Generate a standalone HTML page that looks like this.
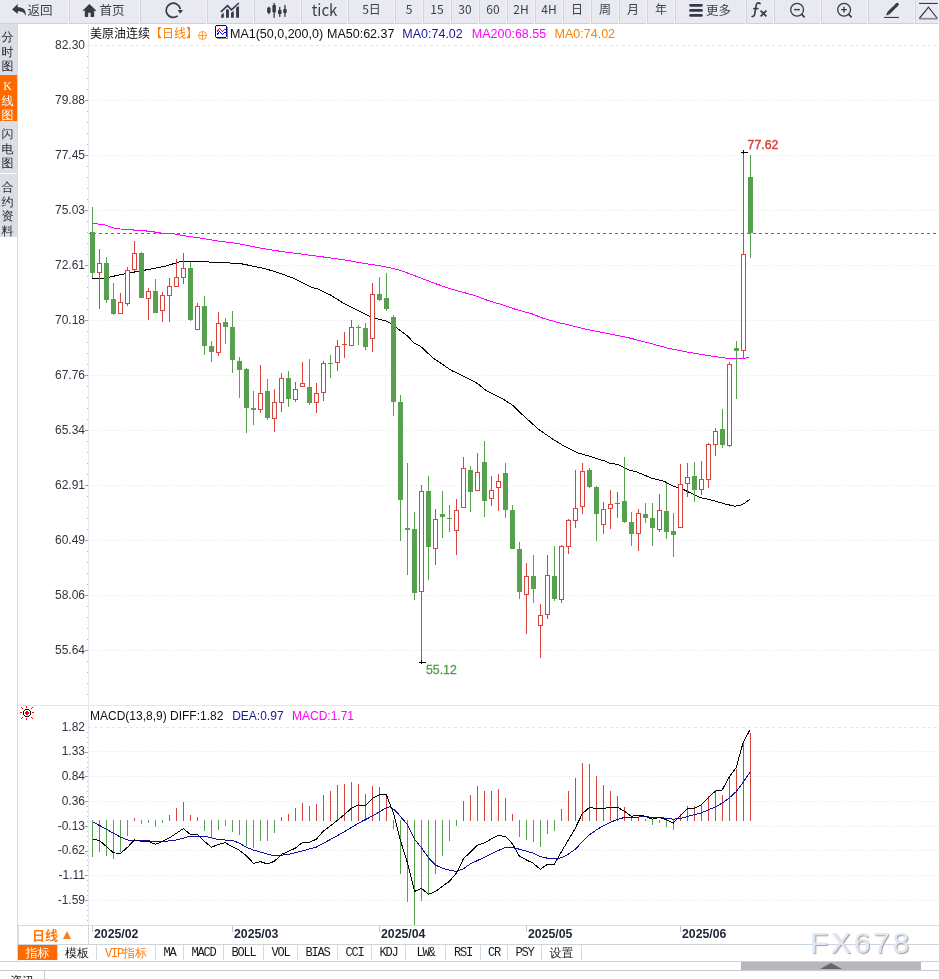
<!DOCTYPE html>
<html><head><meta charset="utf-8"><title>美原油连续 日线</title><style>
*{margin:0;padding:0;box-sizing:border-box}
html,body{width:939px;height:979px;overflow:hidden;background:#fff}
body{position:relative;font-family:"Liberation Sans","Noto Sans CJK SC",sans-serif}
#tb{position:absolute;left:0;top:0;width:939px;height:24px;background:#f3f3f7}
#tb .b{position:absolute;top:0;height:24px;background:#e9e9f1;border-left:1px solid #d3d3db;border-bottom:1px solid #d0d0d8;display:flex;align-items:center;justify-content:center;color:#3b414d;font-size:13px;font-family:"Noto Sans CJK SC","Liberation Sans",sans-serif;line-height:1;white-space:nowrap;padding-bottom:5px}
#tb .b0{border-left:none}
#tb .cj{font-size:12px}
#tb .tl{position:absolute;top:1.5px;font-size:12.5px;line-height:15px;color:#3b414d;font-family:"Noto Sans CJK SC",sans-serif}
#side{position:absolute;left:0;top:24px;width:18px;height:937px;border-right:1px solid #d6dbe3}
.st{position:absolute;left:0;width:17px;background:#dcdde5;color:#222a35;font-size:12px;line-height:14.5px;text-align:center;padding-top:6px;padding-right:2px;font-family:"WenQuanYi Zen Hei","Noto Sans CJK SC",sans-serif}
.st.on{background:#ff6a00;color:#fff}
#ch{position:absolute;left:0;top:0}
.yl{position:absolute;left:20px;width:65px;text-align:right;font-size:12px;line-height:16px;color:#2e3440}
.dl{position:absolute;top:927px;font-size:12.3px;font-weight:bold;color:#1d2535;line-height:14px}
#lg{position:absolute;left:0;top:26px;font-size:12.5px;line-height:16px;white-space:nowrap}#lg span,#mlg span{position:absolute;top:0}
#mlg{position:absolute;left:0;top:708px;font-size:12px;line-height:16px;white-space:nowrap}
#dbox{position:absolute;left:18px;top:925px;width:71px;height:20px;border:1px solid #d3d9e1;color:#ff7a10;font-size:13px;font-weight:bold;line-height:18px;padding-right:4px;text-align:center;font-family:"Noto Sans CJK SC",sans-serif}
.bt{position:absolute;top:945px;height:15px;border-right:1px solid #d3d9e1;font-size:12px;line-height:16px;text-align:center;color:#1a1a1a;font-family:"WenQuanYi Zen Hei","Noto Sans CJK SC",sans-serif}
.bt.on{background:#ff6a00;color:#fff}
.bt.vip{color:#ff7a10}
.bt.m{font-family:"Liberation Mono",monospace;letter-spacing:-1.2px;font-size:12px}
#brow{position:absolute;left:18px;top:944px;width:921px;height:18px;border-top:1px solid #ccd4de}
#brow2{position:absolute;left:0;top:961px;width:939px;height:1px;background:#cdd4dd}
#scroll{position:absolute;left:741px;top:962px;width:180px;height:8px;background:#b6b6bc}
#scroll:after{content:"";position:absolute;left:79px;top:1px;border-left:11px solid transparent;border-right:11px solid transparent;border-bottom:6px solid #666}
#bline{position:absolute;left:0;top:970px;width:939px;height:1px;background:#c6ccd4}
#zx{position:absolute;left:0;top:971px;width:45px;height:8px;border-right:1px solid #c6ccd4;font-size:12px;line-height:14px;padding-left:10px;padding-top:3px;color:#222;overflow:hidden;font-family:"Noto Sans CJK SC",sans-serif}
#wm{position:absolute;left:810px;top:925px;font-size:30px;letter-spacing:2.7px;color:#dde9f8;text-shadow:1px 1px 1px #b89a84;font-family:"Liberation Sans",sans-serif;line-height:36px}
</style></head><body>
<svg id="ch" width="939" height="979" viewBox="0 0 939 979"><line x1="89" y1="100.5" x2="939" y2="100.5" stroke="#e3e8ee" stroke-dasharray="1 2"/><line x1="89" y1="155.5" x2="939" y2="155.5" stroke="#e3e8ee" stroke-dasharray="1 2"/><line x1="89" y1="210.5" x2="939" y2="210.5" stroke="#e3e8ee" stroke-dasharray="1 2"/><line x1="89" y1="265.5" x2="939" y2="265.5" stroke="#e3e8ee" stroke-dasharray="1 2"/><line x1="89" y1="320.5" x2="939" y2="320.5" stroke="#e3e8ee" stroke-dasharray="1 2"/><line x1="89" y1="375.5" x2="939" y2="375.5" stroke="#e3e8ee" stroke-dasharray="1 2"/><line x1="89" y1="430.5" x2="939" y2="430.5" stroke="#e3e8ee" stroke-dasharray="1 2"/><line x1="89" y1="485.5" x2="939" y2="485.5" stroke="#e3e8ee" stroke-dasharray="1 2"/><line x1="89" y1="540.5" x2="939" y2="540.5" stroke="#e3e8ee" stroke-dasharray="1 2"/><line x1="89" y1="595.5" x2="939" y2="595.5" stroke="#e3e8ee" stroke-dasharray="1 2"/><line x1="89" y1="650.5" x2="939" y2="650.5" stroke="#e3e8ee" stroke-dasharray="1 2"/><line x1="88" y1="45.5" x2="939" y2="45.5" stroke="#e2e8ef" stroke-dasharray="3 3" stroke-dashoffset="-0"/><line x1="87" y1="56.5" x2="88" y2="56.5" stroke="#b4bac4"/><line x1="87" y1="67.5" x2="88" y2="67.5" stroke="#b4bac4"/><line x1="87" y1="78.5" x2="88" y2="78.5" stroke="#b4bac4"/><line x1="87" y1="89.5" x2="88" y2="89.5" stroke="#b4bac4"/><line x1="85" y1="100.5" x2="88" y2="100.5" stroke="#9aa0a8"/><line x1="87" y1="111.5" x2="88" y2="111.5" stroke="#b4bac4"/><line x1="87" y1="122.5" x2="88" y2="122.5" stroke="#b4bac4"/><line x1="87" y1="133.5" x2="88" y2="133.5" stroke="#b4bac4"/><line x1="87" y1="144.5" x2="88" y2="144.5" stroke="#b4bac4"/><line x1="85" y1="155.5" x2="88" y2="155.5" stroke="#9aa0a8"/><line x1="87" y1="166.5" x2="88" y2="166.5" stroke="#b4bac4"/><line x1="87" y1="177.5" x2="88" y2="177.5" stroke="#b4bac4"/><line x1="87" y1="188.5" x2="88" y2="188.5" stroke="#b4bac4"/><line x1="87" y1="199.5" x2="88" y2="199.5" stroke="#b4bac4"/><line x1="85" y1="210.5" x2="88" y2="210.5" stroke="#9aa0a8"/><line x1="87" y1="221.5" x2="88" y2="221.5" stroke="#b4bac4"/><line x1="87" y1="232.5" x2="88" y2="232.5" stroke="#b4bac4"/><line x1="87" y1="243.5" x2="88" y2="243.5" stroke="#b4bac4"/><line x1="87" y1="254.5" x2="88" y2="254.5" stroke="#b4bac4"/><line x1="85" y1="265.5" x2="88" y2="265.5" stroke="#9aa0a8"/><line x1="87" y1="276.5" x2="88" y2="276.5" stroke="#b4bac4"/><line x1="87" y1="287.5" x2="88" y2="287.5" stroke="#b4bac4"/><line x1="87" y1="298.5" x2="88" y2="298.5" stroke="#b4bac4"/><line x1="87" y1="309.5" x2="88" y2="309.5" stroke="#b4bac4"/><line x1="85" y1="320.5" x2="88" y2="320.5" stroke="#9aa0a8"/><line x1="87" y1="331.5" x2="88" y2="331.5" stroke="#b4bac4"/><line x1="87" y1="342.5" x2="88" y2="342.5" stroke="#b4bac4"/><line x1="87" y1="353.5" x2="88" y2="353.5" stroke="#b4bac4"/><line x1="87" y1="364.5" x2="88" y2="364.5" stroke="#b4bac4"/><line x1="85" y1="375.5" x2="88" y2="375.5" stroke="#9aa0a8"/><line x1="87" y1="386.5" x2="88" y2="386.5" stroke="#b4bac4"/><line x1="87" y1="397.5" x2="88" y2="397.5" stroke="#b4bac4"/><line x1="87" y1="408.5" x2="88" y2="408.5" stroke="#b4bac4"/><line x1="87" y1="419.5" x2="88" y2="419.5" stroke="#b4bac4"/><line x1="85" y1="430.5" x2="88" y2="430.5" stroke="#9aa0a8"/><line x1="87" y1="441.5" x2="88" y2="441.5" stroke="#b4bac4"/><line x1="87" y1="452.5" x2="88" y2="452.5" stroke="#b4bac4"/><line x1="87" y1="463.5" x2="88" y2="463.5" stroke="#b4bac4"/><line x1="87" y1="474.5" x2="88" y2="474.5" stroke="#b4bac4"/><line x1="85" y1="485.5" x2="88" y2="485.5" stroke="#9aa0a8"/><line x1="87" y1="496.5" x2="88" y2="496.5" stroke="#b4bac4"/><line x1="87" y1="507.5" x2="88" y2="507.5" stroke="#b4bac4"/><line x1="87" y1="518.5" x2="88" y2="518.5" stroke="#b4bac4"/><line x1="87" y1="529.5" x2="88" y2="529.5" stroke="#b4bac4"/><line x1="85" y1="540.5" x2="88" y2="540.5" stroke="#9aa0a8"/><line x1="87" y1="551.5" x2="88" y2="551.5" stroke="#b4bac4"/><line x1="87" y1="562.5" x2="88" y2="562.5" stroke="#b4bac4"/><line x1="87" y1="573.5" x2="88" y2="573.5" stroke="#b4bac4"/><line x1="87" y1="584.5" x2="88" y2="584.5" stroke="#b4bac4"/><line x1="85" y1="595.5" x2="88" y2="595.5" stroke="#9aa0a8"/><line x1="87" y1="606.5" x2="88" y2="606.5" stroke="#b4bac4"/><line x1="87" y1="617.5" x2="88" y2="617.5" stroke="#b4bac4"/><line x1="87" y1="628.5" x2="88" y2="628.5" stroke="#b4bac4"/><line x1="87" y1="639.5" x2="88" y2="639.5" stroke="#b4bac4"/><line x1="85" y1="650.5" x2="88" y2="650.5" stroke="#9aa0a8"/><line x1="87" y1="661.5" x2="88" y2="661.5" stroke="#b4bac4"/><line x1="87" y1="672.5" x2="88" y2="672.5" stroke="#b4bac4"/><line x1="87" y1="683.5" x2="88" y2="683.5" stroke="#b4bac4"/><line x1="87" y1="694.5" x2="88" y2="694.5" stroke="#b4bac4"/><line x1="88.5" y1="24" x2="88.5" y2="944" stroke="#e5eaf0"/><line x1="89" y1="233.5" x2="939" y2="233.5" stroke="#1e7ff0" stroke-dasharray="3 3" stroke-dashoffset="2"/><polyline points="92.0,223.6 102.4,224.3 116.8,228.8 131.1,229.6 137.5,230.7 151.9,231.2 156.7,232.7 174.3,233.9 182.2,235.5 199.8,237.9 215.8,240.7 236.0,243.2 254.1,246.9 272.2,250.1 290.3,252.7 308.4,255.0 326.5,257.4 344.6,259.9 362.7,263.2 380.8,265.9 393.5,268.6 400.0,270.2 416.3,276.3 436.8,284.1 451.1,289.0 475.6,295.8 485.8,299.8 506.3,306.0 514.4,309.0 532.8,314.1 543.0,318.2 559.4,322.9 566.0,324.2 586.2,329.2 606.5,333.3 626.7,337.3 646.9,342.4 667.2,348.0 687.4,352.1 707.6,355.5 725.9,358.2 744.1,358.6 749.1,357.1" fill="none" stroke="#ff00ff" stroke-width="1" shape-rendering="crispEdges"/><polyline points="92.0,278.3 102.4,278.3 108.8,277.2 126.3,273.5 144.0,270.3 164.6,266.3 182.2,261.2 207.8,261.2 209.4,262.3 236.0,263.2 243.2,264.1 254.1,266.4 265.0,268.6 281.3,273.7 293.9,278.5 312.0,287.6 317.5,288.9 330.1,294.8 344.6,303.9 359.1,311.1 371.8,317.5 386.3,321.1 393.5,324.7 400.0,330.5 408.2,336.6 414.3,343.4 420.4,346.2 432.7,357.7 451.1,370.3 467.4,378.1 477.6,383.6 485.8,390.2 502.2,398.5 512.4,405.1 522.6,414.9 538.9,429.6 553.2,439.4 564.0,446.0 570.6,449.3 577.3,452.9 583.9,454.6 590.6,456.6 598.5,459.3 603.9,460.6 609.2,463.2 617.1,464.3 623.8,467.2 630.4,470.6 636.0,471.6 644.6,475.2 652.6,478.5 664.6,481.5 668.5,483.8 676.5,487.4 681.8,488.4 687.1,491.4 693.8,494.4 700.4,497.7 709.3,499.4 725.9,504.2 734.7,506.2 740.0,505.5 745.0,503.0 750.0,499.2" fill="none" stroke="#000000" stroke-width="1" shape-rendering="crispEdges"/><g shape-rendering="crispEdges"><rect x="92" y="207" width="1" height="71" fill="#56a04e"/><rect x="90" y="232" width="5" height="41" fill="#56a04e"/><rect x="99" y="249" width="1" height="14" fill="#d6443d"/><rect x="99" y="272" width="1" height="37" fill="#d6443d"/><rect x="97.5" y="263.5" width="4" height="9" fill="#fff" stroke="#d6443d" stroke-width="1"/><rect x="106" y="257" width="1" height="46" fill="#56a04e"/><rect x="104" y="263" width="5" height="37" fill="#56a04e"/><rect x="113" y="283" width="1" height="32" fill="#56a04e"/><rect x="111" y="299" width="5" height="15" fill="#56a04e"/><rect x="120" y="293" width="1" height="9" fill="#d6443d"/><rect x="120" y="313" width="1" height="1" fill="#d6443d"/><rect x="118.5" y="302.5" width="4" height="11" fill="#fff" stroke="#d6443d" stroke-width="1"/><rect x="127" y="267" width="1" height="3" fill="#d6443d"/><rect x="127" y="303" width="1" height="3" fill="#d6443d"/><rect x="125.5" y="270.5" width="4" height="33" fill="#fff" stroke="#d6443d" stroke-width="1"/><rect x="134" y="241" width="1" height="12" fill="#d6443d"/><rect x="134" y="269" width="1" height="2" fill="#d6443d"/><rect x="132.5" y="253.5" width="4" height="16" fill="#fff" stroke="#d6443d" stroke-width="1"/><rect x="141" y="252" width="1" height="46" fill="#56a04e"/><rect x="139" y="253" width="5" height="45" fill="#56a04e"/><rect x="148" y="288" width="1" height="3" fill="#d6443d"/><rect x="148" y="298" width="1" height="22" fill="#d6443d"/><rect x="146.5" y="291.5" width="4" height="7" fill="#fff" stroke="#d6443d" stroke-width="1"/><rect x="155" y="279" width="1" height="34" fill="#56a04e"/><rect x="153" y="291" width="5" height="22" fill="#56a04e"/><rect x="162" y="292" width="1" height="3" fill="#d6443d"/><rect x="162" y="310" width="1" height="12" fill="#d6443d"/><rect x="160.5" y="295.5" width="4" height="15" fill="#fff" stroke="#d6443d" stroke-width="1"/><rect x="169" y="278" width="1" height="8" fill="#d6443d"/><rect x="169" y="295" width="1" height="27" fill="#d6443d"/><rect x="167.5" y="286.5" width="4" height="9" fill="#fff" stroke="#d6443d" stroke-width="1"/><rect x="176" y="259" width="1" height="18" fill="#d6443d"/><rect x="176" y="286" width="1" height="0" fill="#d6443d"/><rect x="174.5" y="277.5" width="4" height="9" fill="#fff" stroke="#d6443d" stroke-width="1"/><rect x="183" y="253" width="1" height="15" fill="#d6443d"/><rect x="183" y="277" width="1" height="7" fill="#d6443d"/><rect x="181.5" y="268.5" width="4" height="9" fill="#fff" stroke="#d6443d" stroke-width="1"/><rect x="190" y="262" width="1" height="59" fill="#56a04e"/><rect x="188" y="268" width="5" height="52" fill="#56a04e"/><rect x="197" y="303" width="1" height="3" fill="#d6443d"/><rect x="197" y="329" width="1" height="0" fill="#d6443d"/><rect x="195.5" y="306.5" width="4" height="23" fill="#fff" stroke="#d6443d" stroke-width="1"/><rect x="204" y="296" width="1" height="59" fill="#56a04e"/><rect x="202" y="306" width="5" height="40" fill="#56a04e"/><rect x="211" y="341" width="1" height="21" fill="#56a04e"/><rect x="209" y="346" width="5" height="6" fill="#56a04e"/><rect x="218" y="312" width="1" height="11" fill="#d6443d"/><rect x="218" y="352" width="1" height="4" fill="#d6443d"/><rect x="216.5" y="323.5" width="4" height="29" fill="#fff" stroke="#d6443d" stroke-width="1"/><rect x="225" y="318" width="1" height="26" fill="#56a04e"/><rect x="223" y="322" width="5" height="5" fill="#56a04e"/><rect x="232" y="311" width="1" height="62" fill="#56a04e"/><rect x="230" y="327" width="5" height="33" fill="#56a04e"/><rect x="239" y="357" width="1" height="41" fill="#56a04e"/><rect x="237" y="361" width="5" height="9" fill="#56a04e"/><rect x="246" y="368" width="1" height="65" fill="#56a04e"/><rect x="244" y="369" width="5" height="39" fill="#56a04e"/><rect x="253" y="391" width="1" height="34" fill="#56a04e"/><rect x="251" y="408" width="5" height="2" fill="#56a04e"/><rect x="260" y="365" width="1" height="28" fill="#d6443d"/><rect x="260" y="409" width="1" height="4" fill="#d6443d"/><rect x="258.5" y="393.5" width="4" height="16" fill="#fff" stroke="#d6443d" stroke-width="1"/><rect x="267" y="379" width="1" height="41" fill="#56a04e"/><rect x="265" y="391" width="5" height="27" fill="#56a04e"/><rect x="274" y="389" width="1" height="13" fill="#d6443d"/><rect x="274" y="418" width="1" height="14" fill="#d6443d"/><rect x="272.5" y="402.5" width="4" height="16" fill="#fff" stroke="#d6443d" stroke-width="1"/><rect x="281" y="373" width="1" height="5" fill="#d6443d"/><rect x="281" y="402" width="1" height="10" fill="#d6443d"/><rect x="279.5" y="378.5" width="4" height="24" fill="#fff" stroke="#d6443d" stroke-width="1"/><rect x="288" y="371" width="1" height="36" fill="#56a04e"/><rect x="286" y="378" width="5" height="21" fill="#56a04e"/><rect x="295" y="382" width="1" height="7" fill="#d6443d"/><rect x="295" y="399" width="1" height="3" fill="#d6443d"/><rect x="293.5" y="389.5" width="4" height="10" fill="#fff" stroke="#d6443d" stroke-width="1"/><rect x="302" y="362" width="1" height="21" fill="#d6443d"/><rect x="302" y="386" width="1" height="1" fill="#d6443d"/><rect x="300.5" y="383.5" width="4" height="3" fill="#fff" stroke="#d6443d" stroke-width="1"/><rect x="309" y="359" width="1" height="46" fill="#56a04e"/><rect x="307" y="387" width="5" height="16" fill="#56a04e"/><rect x="316" y="383" width="1" height="10" fill="#d6443d"/><rect x="316" y="402" width="1" height="11" fill="#d6443d"/><rect x="314.5" y="393.5" width="4" height="9" fill="#fff" stroke="#d6443d" stroke-width="1"/><rect x="323" y="361" width="1" height="2" fill="#d6443d"/><rect x="323" y="392" width="1" height="9" fill="#d6443d"/><rect x="321.5" y="363.5" width="4" height="29" fill="#fff" stroke="#d6443d" stroke-width="1"/><rect x="330" y="355" width="1" height="23" fill="#56a04e"/><rect x="328" y="363" width="5" height="1" fill="#56a04e"/><rect x="337" y="340" width="1" height="6" fill="#d6443d"/><rect x="337" y="362" width="1" height="9" fill="#d6443d"/><rect x="335.5" y="346.5" width="4" height="16" fill="#fff" stroke="#d6443d" stroke-width="1"/><rect x="344" y="332" width="1" height="12" fill="#d6443d"/><rect x="344" y="345" width="1" height="13" fill="#d6443d"/><rect x="342" y="344" width="5" height="1" fill="#d6443d"/><rect x="344" y="344" width="1" height="14" fill="#d6443d"/><rect x="351" y="320" width="1" height="7" fill="#d6443d"/><rect x="351" y="345" width="1" height="1" fill="#d6443d"/><rect x="349.5" y="327.5" width="4" height="18" fill="#fff" stroke="#d6443d" stroke-width="1"/><rect x="358" y="325" width="1" height="20" fill="#56a04e"/><rect x="356" y="327" width="5" height="1" fill="#56a04e"/><rect x="365" y="323" width="1" height="27" fill="#56a04e"/><rect x="363" y="328" width="5" height="19" fill="#56a04e"/><rect x="372" y="283" width="1" height="11" fill="#d6443d"/><rect x="372" y="338" width="1" height="14" fill="#d6443d"/><rect x="370.5" y="294.5" width="4" height="44" fill="#fff" stroke="#d6443d" stroke-width="1"/><rect x="379" y="277" width="1" height="24" fill="#56a04e"/><rect x="377" y="294" width="5" height="6" fill="#56a04e"/><rect x="386" y="273" width="1" height="38" fill="#56a04e"/><rect x="384" y="298" width="5" height="11" fill="#56a04e"/><rect x="393" y="315" width="1" height="101" fill="#56a04e"/><rect x="391" y="317" width="5" height="85" fill="#56a04e"/><rect x="400" y="395" width="1" height="146" fill="#56a04e"/><rect x="398" y="402" width="5" height="98" fill="#56a04e"/><rect x="407" y="463" width="1" height="112" fill="#56a04e"/><rect x="405" y="528" width="5" height="2" fill="#56a04e"/><rect x="414" y="512" width="1" height="88" fill="#56a04e"/><rect x="412" y="529" width="5" height="64" fill="#56a04e"/><rect x="421" y="485" width="1" height="6" fill="#d6443d"/><rect x="421" y="591" width="1" height="71" fill="#d6443d"/><rect x="419.5" y="491.5" width="4" height="100" fill="#fff" stroke="#d6443d" stroke-width="1"/><rect x="428" y="476" width="1" height="104" fill="#56a04e"/><rect x="426" y="491" width="5" height="56" fill="#56a04e"/><rect x="435" y="509" width="1" height="10" fill="#d6443d"/><rect x="435" y="548" width="1" height="17" fill="#d6443d"/><rect x="433.5" y="519.5" width="4" height="29" fill="#fff" stroke="#d6443d" stroke-width="1"/><rect x="442" y="491" width="1" height="47" fill="#56a04e"/><rect x="440" y="514" width="5" height="3" fill="#56a04e"/><rect x="449" y="505" width="1" height="27" fill="#56a04e"/><rect x="447" y="518" width="5" height="1" fill="#56a04e"/><rect x="456" y="499" width="1" height="11" fill="#d6443d"/><rect x="456" y="530" width="1" height="25" fill="#d6443d"/><rect x="454.5" y="510.5" width="4" height="20" fill="#fff" stroke="#d6443d" stroke-width="1"/><rect x="463" y="457" width="1" height="11" fill="#d6443d"/><rect x="463" y="507" width="1" height="0" fill="#d6443d"/><rect x="461.5" y="468.5" width="4" height="39" fill="#fff" stroke="#d6443d" stroke-width="1"/><rect x="470" y="466" width="1" height="46" fill="#56a04e"/><rect x="468" y="470" width="5" height="22" fill="#56a04e"/><rect x="477" y="453" width="1" height="19" fill="#d6443d"/><rect x="477" y="490" width="1" height="0" fill="#d6443d"/><rect x="475.5" y="472.5" width="4" height="18" fill="#fff" stroke="#d6443d" stroke-width="1"/><rect x="484" y="441" width="1" height="76" fill="#56a04e"/><rect x="482" y="462" width="5" height="39" fill="#56a04e"/><rect x="491" y="476" width="1" height="14" fill="#d6443d"/><rect x="491" y="498" width="1" height="8" fill="#d6443d"/><rect x="489.5" y="490.5" width="4" height="8" fill="#fff" stroke="#d6443d" stroke-width="1"/><rect x="498" y="474" width="1" height="7" fill="#d6443d"/><rect x="498" y="487" width="1" height="24" fill="#d6443d"/><rect x="496.5" y="481.5" width="4" height="6" fill="#fff" stroke="#d6443d" stroke-width="1"/><rect x="505" y="463" width="1" height="55" fill="#56a04e"/><rect x="503" y="473" width="5" height="37" fill="#56a04e"/><rect x="512" y="505" width="1" height="44" fill="#56a04e"/><rect x="510" y="510" width="5" height="39" fill="#56a04e"/><rect x="519" y="542" width="1" height="57" fill="#56a04e"/><rect x="517" y="549" width="5" height="43" fill="#56a04e"/><rect x="526" y="563" width="1" height="13" fill="#d6443d"/><rect x="526" y="594" width="1" height="40" fill="#d6443d"/><rect x="524.5" y="576.5" width="4" height="18" fill="#fff" stroke="#d6443d" stroke-width="1"/><rect x="533" y="555" width="1" height="48" fill="#56a04e"/><rect x="531" y="576" width="5" height="13" fill="#56a04e"/><rect x="540" y="604" width="1" height="11" fill="#d6443d"/><rect x="540" y="625" width="1" height="33" fill="#d6443d"/><rect x="538.5" y="615.5" width="4" height="10" fill="#fff" stroke="#d6443d" stroke-width="1"/><rect x="547" y="555" width="1" height="20" fill="#d6443d"/><rect x="547" y="614" width="1" height="5" fill="#d6443d"/><rect x="545.5" y="575.5" width="4" height="39" fill="#fff" stroke="#d6443d" stroke-width="1"/><rect x="554" y="546" width="1" height="55" fill="#56a04e"/><rect x="552" y="576" width="5" height="23" fill="#56a04e"/><rect x="561" y="545" width="1" height="1" fill="#d6443d"/><rect x="561" y="599" width="1" height="4" fill="#d6443d"/><rect x="559.5" y="546.5" width="4" height="53" fill="#fff" stroke="#d6443d" stroke-width="1"/><rect x="568" y="519" width="1" height="1" fill="#d6443d"/><rect x="568" y="546" width="1" height="8" fill="#d6443d"/><rect x="566.5" y="520.5" width="4" height="26" fill="#fff" stroke="#d6443d" stroke-width="1"/><rect x="575" y="470" width="1" height="38" fill="#d6443d"/><rect x="575" y="520" width="1" height="8" fill="#d6443d"/><rect x="573.5" y="508.5" width="4" height="12" fill="#fff" stroke="#d6443d" stroke-width="1"/><rect x="582" y="463" width="1" height="8" fill="#d6443d"/><rect x="582" y="506" width="1" height="8" fill="#d6443d"/><rect x="580.5" y="471.5" width="4" height="35" fill="#fff" stroke="#d6443d" stroke-width="1"/><rect x="589" y="468" width="1" height="20" fill="#56a04e"/><rect x="587" y="470" width="5" height="17" fill="#56a04e"/><rect x="596" y="486" width="1" height="55" fill="#56a04e"/><rect x="594" y="487" width="5" height="27" fill="#56a04e"/><rect x="603" y="502" width="1" height="7" fill="#d6443d"/><rect x="603" y="524" width="1" height="10" fill="#d6443d"/><rect x="601.5" y="509.5" width="4" height="15" fill="#fff" stroke="#d6443d" stroke-width="1"/><rect x="610" y="490" width="1" height="14" fill="#d6443d"/><rect x="610" y="508" width="1" height="21" fill="#d6443d"/><rect x="608.5" y="504.5" width="4" height="4" fill="#fff" stroke="#d6443d" stroke-width="1"/><rect x="617" y="492" width="1" height="11" fill="#d6443d"/><rect x="617" y="504" width="1" height="14" fill="#d6443d"/><rect x="615" y="503" width="5" height="1" fill="#d6443d"/><rect x="617" y="503" width="1" height="15" fill="#d6443d"/><rect x="624" y="457" width="1" height="66" fill="#56a04e"/><rect x="622" y="501" width="5" height="21" fill="#56a04e"/><rect x="631" y="512" width="1" height="34" fill="#56a04e"/><rect x="629" y="522" width="5" height="12" fill="#56a04e"/><rect x="638" y="509" width="1" height="4" fill="#d6443d"/><rect x="638" y="533" width="1" height="18" fill="#d6443d"/><rect x="636.5" y="513.5" width="4" height="20" fill="#fff" stroke="#d6443d" stroke-width="1"/><rect x="645" y="503" width="1" height="20" fill="#56a04e"/><rect x="643" y="514" width="5" height="4" fill="#56a04e"/><rect x="652" y="503" width="1" height="43" fill="#56a04e"/><rect x="650" y="518" width="5" height="10" fill="#56a04e"/><rect x="659" y="494" width="1" height="16" fill="#d6443d"/><rect x="659" y="529" width="1" height="3" fill="#d6443d"/><rect x="657.5" y="510.5" width="4" height="19" fill="#fff" stroke="#d6443d" stroke-width="1"/><rect x="666" y="483" width="1" height="56" fill="#56a04e"/><rect x="664" y="511" width="5" height="21" fill="#56a04e"/><rect x="673" y="513" width="1" height="44" fill="#56a04e"/><rect x="671" y="531" width="5" height="4" fill="#56a04e"/><rect x="680" y="464" width="1" height="20" fill="#d6443d"/><rect x="680" y="527" width="1" height="1" fill="#d6443d"/><rect x="678.5" y="484.5" width="4" height="43" fill="#fff" stroke="#d6443d" stroke-width="1"/><rect x="687" y="463" width="1" height="14" fill="#d6443d"/><rect x="687" y="483" width="1" height="14" fill="#d6443d"/><rect x="685.5" y="477.5" width="4" height="6" fill="#fff" stroke="#d6443d" stroke-width="1"/><rect x="694" y="462" width="1" height="40" fill="#56a04e"/><rect x="692" y="476" width="5" height="14" fill="#56a04e"/><rect x="701" y="461" width="1" height="18" fill="#d6443d"/><rect x="701" y="489" width="1" height="6" fill="#d6443d"/><rect x="699.5" y="479.5" width="4" height="10" fill="#fff" stroke="#d6443d" stroke-width="1"/><rect x="708" y="443" width="1" height="1" fill="#d6443d"/><rect x="708" y="479" width="1" height="9" fill="#d6443d"/><rect x="706.5" y="444.5" width="4" height="35" fill="#fff" stroke="#d6443d" stroke-width="1"/><rect x="715" y="428" width="1" height="3" fill="#d6443d"/><rect x="715" y="444" width="1" height="12" fill="#d6443d"/><rect x="713.5" y="431.5" width="4" height="13" fill="#fff" stroke="#d6443d" stroke-width="1"/><rect x="722" y="409" width="1" height="39" fill="#56a04e"/><rect x="720" y="429" width="5" height="16" fill="#56a04e"/><rect x="729" y="362" width="1" height="2" fill="#d6443d"/><rect x="729" y="445" width="1" height="2" fill="#d6443d"/><rect x="727.5" y="364.5" width="4" height="81" fill="#fff" stroke="#d6443d" stroke-width="1"/><rect x="736" y="341" width="1" height="58" fill="#56a04e"/><rect x="734" y="348" width="5" height="3" fill="#56a04e"/><rect x="743" y="152" width="1" height="102" fill="#d6443d"/><rect x="743" y="350" width="1" height="8" fill="#d6443d"/><rect x="741.5" y="254.5" width="4" height="96" fill="#fff" stroke="#d6443d" stroke-width="1"/><rect x="750" y="155" width="1" height="103" fill="#56a04e"/><rect x="748" y="177" width="5" height="56" fill="#56a04e"/></g><g shape-rendering="crispEdges"><rect x="741" y="152" width="7" height="1" fill="#000"/><rect x="743" y="150" width="1" height="4" fill="#000"/><rect x="419" y="662" width="7" height="1" fill="#000"/><rect x="421" y="660" width="1" height="4" fill="#000"/></g><text x="747.6" y="148.8" font-size="12.3" fill="#d6443d" stroke="#d6443d" stroke-width="0.45" font-family="Liberation Sans,sans-serif">77.62</text><text x="426" y="673.8" font-size="12.3" fill="#4f9e46" stroke="#4f9e46" stroke-width="0.3" font-family="Liberation Sans,sans-serif">55.12</text><line x1="18" y1="705.5" x2="939" y2="705.5" stroke="#e2e7ed"/><line x1="88" y1="727.5" x2="939" y2="727.5" stroke="#e2e8ef" stroke-dasharray="3 3"/><line x1="89" y1="751.5" x2="939" y2="751.5" stroke="#e3e8ee" stroke-dasharray="1 2"/><line x1="89" y1="776.5" x2="939" y2="776.5" stroke="#e3e8ee" stroke-dasharray="1 2"/><line x1="89" y1="801.5" x2="939" y2="801.5" stroke="#e3e8ee" stroke-dasharray="1 2"/><line x1="89" y1="826.5" x2="939" y2="826.5" stroke="#e3e8ee" stroke-dasharray="1 2"/><line x1="89" y1="850.5" x2="939" y2="850.5" stroke="#e3e8ee" stroke-dasharray="1 2"/><line x1="89" y1="875.5" x2="939" y2="875.5" stroke="#e3e8ee" stroke-dasharray="1 2"/><line x1="89" y1="900.5" x2="939" y2="900.5" stroke="#e3e8ee" stroke-dasharray="1 2"/><line x1="87" y1="732.5" x2="88" y2="732.5" stroke="#b4bac4"/><line x1="87" y1="737.5" x2="88" y2="737.5" stroke="#b4bac4"/><line x1="87" y1="742.5" x2="88" y2="742.5" stroke="#b4bac4"/><line x1="87" y1="747.5" x2="88" y2="747.5" stroke="#b4bac4"/><line x1="85" y1="752.5" x2="88" y2="752.5" stroke="#9aa0a8"/><line x1="87" y1="757.5" x2="88" y2="757.5" stroke="#b4bac4"/><line x1="87" y1="762.5" x2="88" y2="762.5" stroke="#b4bac4"/><line x1="87" y1="767.5" x2="88" y2="767.5" stroke="#b4bac4"/><line x1="87" y1="771.5" x2="88" y2="771.5" stroke="#b4bac4"/><line x1="85" y1="776.5" x2="88" y2="776.5" stroke="#9aa0a8"/><line x1="87" y1="781.5" x2="88" y2="781.5" stroke="#b4bac4"/><line x1="87" y1="786.5" x2="88" y2="786.5" stroke="#b4bac4"/><line x1="87" y1="791.5" x2="88" y2="791.5" stroke="#b4bac4"/><line x1="87" y1="796.5" x2="88" y2="796.5" stroke="#b4bac4"/><line x1="85" y1="801.5" x2="88" y2="801.5" stroke="#9aa0a8"/><line x1="87" y1="806.5" x2="88" y2="806.5" stroke="#b4bac4"/><line x1="87" y1="811.5" x2="88" y2="811.5" stroke="#b4bac4"/><line x1="87" y1="816.5" x2="88" y2="816.5" stroke="#b4bac4"/><line x1="87" y1="821.5" x2="88" y2="821.5" stroke="#b4bac4"/><line x1="85" y1="826.5" x2="88" y2="826.5" stroke="#9aa0a8"/><line x1="87" y1="831.5" x2="88" y2="831.5" stroke="#b4bac4"/><line x1="87" y1="836.5" x2="88" y2="836.5" stroke="#b4bac4"/><line x1="87" y1="841.5" x2="88" y2="841.5" stroke="#b4bac4"/><line x1="87" y1="846.5" x2="88" y2="846.5" stroke="#b4bac4"/><line x1="85" y1="851.5" x2="88" y2="851.5" stroke="#9aa0a8"/><line x1="87" y1="855.5" x2="88" y2="855.5" stroke="#b4bac4"/><line x1="87" y1="860.5" x2="88" y2="860.5" stroke="#b4bac4"/><line x1="87" y1="865.5" x2="88" y2="865.5" stroke="#b4bac4"/><line x1="87" y1="870.5" x2="88" y2="870.5" stroke="#b4bac4"/><line x1="85" y1="875.5" x2="88" y2="875.5" stroke="#9aa0a8"/><line x1="87" y1="880.5" x2="88" y2="880.5" stroke="#b4bac4"/><line x1="87" y1="885.5" x2="88" y2="885.5" stroke="#b4bac4"/><line x1="87" y1="890.5" x2="88" y2="890.5" stroke="#b4bac4"/><line x1="87" y1="895.5" x2="88" y2="895.5" stroke="#b4bac4"/><line x1="85" y1="900.5" x2="88" y2="900.5" stroke="#9aa0a8"/><line x1="87" y1="905.5" x2="88" y2="905.5" stroke="#b4bac4"/><line x1="87" y1="910.5" x2="88" y2="910.5" stroke="#b4bac4"/><line x1="87" y1="915.5" x2="88" y2="915.5" stroke="#b4bac4"/><line x1="87" y1="920.5" x2="88" y2="920.5" stroke="#b4bac4"/><g shape-rendering="crispEdges"><rect x="92" y="820" width="1" height="37" fill="#56a04e"/><rect x="99" y="820" width="1" height="32" fill="#56a04e"/><rect x="106" y="820" width="1" height="36" fill="#56a04e"/><rect x="113" y="820" width="1" height="39" fill="#56a04e"/><rect x="120" y="820" width="1" height="32" fill="#56a04e"/><rect x="127" y="820" width="1" height="16" fill="#56a04e"/><rect x="134" y="818" width="1" height="3" fill="#d6443d"/><rect x="141" y="820" width="1" height="4" fill="#56a04e"/><rect x="148" y="820" width="1" height="3" fill="#56a04e"/><rect x="155" y="820" width="1" height="7" fill="#56a04e"/><rect x="162" y="820" width="1" height="3" fill="#56a04e"/><rect x="169" y="815" width="1" height="6" fill="#d6443d"/><rect x="176" y="808" width="1" height="13" fill="#d6443d"/><rect x="183" y="802" width="1" height="19" fill="#d6443d"/><rect x="190" y="815" width="1" height="6" fill="#d6443d"/><rect x="197" y="817" width="1" height="4" fill="#d6443d"/><rect x="204" y="820" width="1" height="11" fill="#56a04e"/><rect x="211" y="820" width="1" height="18" fill="#56a04e"/><rect x="218" y="820" width="1" height="10" fill="#56a04e"/><rect x="225" y="820" width="1" height="6" fill="#56a04e"/><rect x="232" y="820" width="1" height="12" fill="#56a04e"/><rect x="239" y="820" width="1" height="15" fill="#56a04e"/><rect x="246" y="820" width="1" height="26" fill="#56a04e"/><rect x="253" y="820" width="1" height="28" fill="#56a04e"/><rect x="260" y="820" width="1" height="21" fill="#56a04e"/><rect x="267" y="820" width="1" height="21" fill="#56a04e"/><rect x="274" y="820" width="1" height="13" fill="#56a04e"/><rect x="281" y="817" width="1" height="4" fill="#d6443d"/><rect x="288" y="814" width="1" height="7" fill="#d6443d"/><rect x="295" y="808" width="1" height="13" fill="#d6443d"/><rect x="302" y="803" width="1" height="18" fill="#d6443d"/><rect x="309" y="806" width="1" height="15" fill="#d6443d"/><rect x="316" y="804" width="1" height="17" fill="#d6443d"/><rect x="323" y="795" width="1" height="26" fill="#d6443d"/><rect x="330" y="791" width="1" height="30" fill="#d6443d"/><rect x="337" y="785" width="1" height="36" fill="#d6443d"/><rect x="344" y="784" width="1" height="37" fill="#d6443d"/><rect x="351" y="782" width="1" height="39" fill="#d6443d"/><rect x="358" y="784" width="1" height="37" fill="#d6443d"/><rect x="365" y="794" width="1" height="27" fill="#d6443d"/><rect x="372" y="786" width="1" height="35" fill="#d6443d"/><rect x="379" y="787" width="1" height="34" fill="#d6443d"/><rect x="386" y="794" width="1" height="27" fill="#d6443d"/><rect x="393" y="820" width="1" height="9" fill="#56a04e"/><rect x="400" y="820" width="1" height="54" fill="#56a04e"/><rect x="407" y="820" width="1" height="82" fill="#56a04e"/><rect x="414" y="820" width="1" height="106" fill="#56a04e"/><rect x="421" y="820" width="1" height="81" fill="#56a04e"/><rect x="428" y="820" width="1" height="75" fill="#56a04e"/><rect x="435" y="820" width="1" height="54" fill="#56a04e"/><rect x="442" y="820" width="1" height="36" fill="#56a04e"/><rect x="449" y="820" width="1" height="21" fill="#56a04e"/><rect x="456" y="820" width="1" height="6" fill="#56a04e"/><rect x="463" y="801" width="1" height="20" fill="#d6443d"/><rect x="470" y="795" width="1" height="26" fill="#d6443d"/><rect x="477" y="786" width="1" height="35" fill="#d6443d"/><rect x="484" y="791" width="1" height="30" fill="#d6443d"/><rect x="491" y="791" width="1" height="30" fill="#d6443d"/><rect x="498" y="789" width="1" height="32" fill="#d6443d"/><rect x="505" y="798" width="1" height="23" fill="#d6443d"/><rect x="512" y="814" width="1" height="7" fill="#d6443d"/><rect x="519" y="820" width="1" height="17" fill="#56a04e"/><rect x="526" y="820" width="1" height="20" fill="#56a04e"/><rect x="533" y="820" width="1" height="22" fill="#56a04e"/><rect x="540" y="820" width="1" height="27" fill="#56a04e"/><rect x="547" y="820" width="1" height="14" fill="#56a04e"/><rect x="554" y="820" width="1" height="11" fill="#56a04e"/><rect x="561" y="809" width="1" height="12" fill="#d6443d"/><rect x="568" y="791" width="1" height="30" fill="#d6443d"/><rect x="575" y="778" width="1" height="43" fill="#d6443d"/><rect x="582" y="763" width="1" height="58" fill="#d6443d"/><rect x="589" y="764" width="1" height="57" fill="#d6443d"/><rect x="596" y="776" width="1" height="45" fill="#d6443d"/><rect x="603" y="785" width="1" height="36" fill="#d6443d"/><rect x="610" y="791" width="1" height="30" fill="#d6443d"/><rect x="617" y="796" width="1" height="25" fill="#d6443d"/><rect x="624" y="807" width="1" height="14" fill="#d6443d"/><rect x="631" y="818" width="1" height="3" fill="#d6443d"/><rect x="638" y="818" width="1" height="3" fill="#d6443d"/><rect x="645" y="819" width="1" height="2" fill="#d6443d"/><rect x="652" y="820" width="1" height="5" fill="#56a04e"/><rect x="659" y="820" width="1" height="3" fill="#56a04e"/><rect x="666" y="820" width="1" height="7" fill="#56a04e"/><rect x="673" y="820" width="1" height="10" fill="#56a04e"/><rect x="680" y="814" width="1" height="7" fill="#d6443d"/><rect x="687" y="806" width="1" height="15" fill="#d6443d"/><rect x="694" y="806" width="1" height="15" fill="#d6443d"/><rect x="701" y="805" width="1" height="16" fill="#d6443d"/><rect x="708" y="796" width="1" height="25" fill="#d6443d"/><rect x="715" y="790" width="1" height="31" fill="#d6443d"/><rect x="722" y="795" width="1" height="26" fill="#d6443d"/><rect x="729" y="777" width="1" height="44" fill="#d6443d"/><rect x="736" y="769" width="1" height="52" fill="#d6443d"/><rect x="743" y="743" width="1" height="78" fill="#d6443d"/><rect x="750" y="733" width="1" height="88" fill="#d6443d"/></g><polyline points="92.6,821.7 106.6,829.4 120.5,837.1 127.5,840.0 141.5,840.5 162.5,841.7 176.4,840.0 190.4,836.2 204.4,836.2 218.3,839.6 232.3,840.5 239.3,843.0 246.3,847.3 253.6,850.1 274.5,856.0 288.5,854.3 302.5,850.9 316.5,847.0 330.4,839.5 344.4,831.7 358.4,823.2 372.3,816.0 386.3,807.8 390.0,806.6 396.0,811.3 407.6,824.9 414.6,839.4 421.6,847.9 428.5,857.8 435.5,865.0 442.5,868.4 449.5,870.1 456.5,871.4 463.5,868.7 470.4,863.8 484.4,857.3 498.4,850.5 505.4,847.5 512.4,847.5 519.3,849.2 533.3,853.1 540.3,856.5 547.3,858.2 554.3,859.0 561.3,857.7 568.2,854.3 575.2,849.2 582.2,842.0 589.2,834.9 596.2,830.1 603.2,825.8 610.2,822.4 617.1,819.5 624.4,817.5 645.4,816.8 659.4,817.5 673.3,819.2 680.3,818.5 694.3,814.6 701.3,812.9 715.3,806.9 722.2,803.1 729.2,798.0 736.2,791.6 743.2,782.2 750.2,772.0" fill="none" stroke="#1010a0" stroke-width="1" shape-rendering="crispEdges"/><polyline points="92.6,839.3 99.6,840.5 106.6,846.8 113.6,852.9 120.5,853.3 127.5,847.3 134.5,840.0 141.5,841.3 148.5,841.3 155.5,844.4 162.5,841.3 169.4,837.9 176.4,833.2 183.4,828.6 190.4,834.5 197.4,834.5 204.4,841.3 211.4,847.3 218.3,844.4 225.3,842.7 232.3,846.8 239.3,850.2 246.6,856.0 253.6,863.4 260.6,861.7 267.6,864.0 274.5,861.2 281.5,854.3 288.5,851.4 295.5,848.0 302.5,842.4 309.5,842.4 316.5,839.0 323.4,831.0 330.4,825.9 337.4,820.3 344.4,814.6 351.4,808.3 358.4,804.9 365.4,805.8 372.3,798.6 379.3,794.7 386.3,794.7 393.3,812.6 400.3,840.0 407.6,863.3 414.6,891.4 421.6,888.5 428.5,894.3 435.5,891.4 442.5,886.3 449.5,881.2 456.5,873.1 463.5,858.6 470.4,852.2 477.4,845.1 484.4,842.9 491.4,838.9 498.4,835.2 505.4,836.6 512.4,843.7 519.3,856.0 526.3,859.9 533.3,863.3 540.3,869.3 547.3,864.5 554.3,864.2 561.3,851.9 568.2,840.3 575.2,828.4 582.2,813.9 589.2,807.6 596.2,808.3 603.2,808.3 610.2,807.6 617.5,807.2 624.4,811.2 631.4,816.3 638.4,815.1 645.4,816.3 652.4,819.2 659.4,817.5 666.4,819.7 673.3,823.1 680.3,815.4 687.3,808.9 694.3,808.3 701.3,804.9 708.3,797.5 715.3,791.2 722.2,789.9 729.2,777.1 736.2,767.7 743.2,742.2 750.2,729.4" fill="none" stroke="#000000" stroke-width="1" shape-rendering="crispEdges"/><line x1="18" y1="925.5" x2="939" y2="925.5" stroke="#d9dfe7"/><line x1="92.5" y1="926" x2="92.5" y2="932" stroke="#c0c6ce"/><line x1="232.5" y1="926" x2="232.5" y2="932" stroke="#c0c6ce"/><line x1="379.5" y1="926" x2="379.5" y2="932" stroke="#c0c6ce"/><line x1="526.5" y1="926" x2="526.5" y2="932" stroke="#c0c6ce"/><line x1="680.5" y1="926" x2="680.5" y2="932" stroke="#c0c6ce"/><circle cx="202.5" cy="35.5" r="4" fill="none" stroke="#ff8a10" stroke-width="0.8"/><path d="M198.5 35.5 H206.5 M202.5 31.5 V39.5" stroke="#ff8a10" stroke-width="0.8"/><g shape-rendering="crispEdges"><rect x="216" y="25" width="10" height="1" fill="#000080"/><rect x="216" y="37" width="10" height="1" fill="#000080"/><rect x="215" y="26" width="1" height="11" fill="#000080"/><rect x="226" y="26" width="1" height="11" fill="#000080"/><rect x="227" y="27" width="1" height="11" fill="#8a8a8a"/><rect x="217" y="38" width="11" height="1" fill="#8a8a8a"/><polyline points="216.5,32.5 219.5,28.5 222.5,31.5 224.5,29.5 226,29.5" fill="none" stroke="#ff0000" stroke-width="1"/><polyline points="216.5,35.5 219.5,31.5 222.5,34.5 224.5,32.5 226,32.5" fill="none" stroke="#0000ff" stroke-width="1"/></g></svg>
<div id="tb"><div class="b b0" style="left:0px;width:68px"></div><div class="b" style="left:69px;width:70px"></div><div class="b" style="left:140px;width:66px"></div><div class="b" style="left:207px;width:46px"></div><div class="b" style="left:254px;width:46px"></div><div class="b" style="left:301px;width:46px"><span style="font-size:15px">tick</span></div><div class="b" style="left:348px;width:46px"><span class="cj">5日</span></div><div class="b" style="left:395px;width:27px"><span class="cj">5</span></div><div class="b" style="left:423px;width:27px"><span class="cj">15</span></div><div class="b" style="left:451px;width:27px"><span class="cj">30</span></div><div class="b" style="left:479px;width:27px"><span class="cj">60</span></div><div class="b" style="left:507px;width:27px"><span class="cj">2H</span></div><div class="b" style="left:535px;width:27px"><span class="cj">4H</span></div><div class="b" style="left:563px;width:27px"><span class="cj">日</span></div><div class="b" style="left:591px;width:27px"><span class="cj">周</span></div><div class="b" style="left:619px;width:27px"><span class="cj">月</span></div><div class="b" style="left:647px;width:27px"><span class="cj">年</span></div><div class="b" style="left:675px;width:70px"></div><div class="b" style="left:746px;width:27px"></div><div class="b" style="left:774px;width:46px"></div><div class="b" style="left:821px;width:46px"></div><div class="b" style="left:868px;width:46px"></div><div class="b" style="left:915px;width:23px"></div><svg width="939" height="23" viewBox="0 0 939 23" style="position:absolute;left:0;top:0">
<path d="M12.1 9.5 L17.7 4.1 L17.7 7.2 C22.5 7.2 26.3 9.3 25.7 15.9 C24.6 12.6 22 11.3 17.7 11.3 L17.7 14.0 Z" fill="#353b47"/>
<path d="M89.4 4 L96.2 10.4 L95.3 11.2 L94.2 10.3 L94.2 16.3 Q94.2 17 93.5 17 L90.6 17 L90.6 12.8 L88.2 12.8 L88.2 17 L85.5 17 Q84.8 17 84.8 16.3 L84.8 10.3 L83.6 11.2 L82.7 10.4 Z" fill="#353b47"/>
<path d="M177.7 15.9 A7.1 7.1 0 1 1 180.3 9.2" fill="none" stroke="#353b47" stroke-width="1.7"/>
<path d="M177.6 9.9 L183 9.9 L180.3 13.8 Z" fill="#353b47"/>
<g fill="#353b47"><path d="M221.1 17.7 L221.1 15 L223.8 12.8 L223.8 17.7 Z"/><path d="M226 17.7 L226 10 L227.45 9.1 L228.9 10 L228.9 17.7 Z"/><path d="M231 17.7 L231 12.8 L233.8 11 L233.8 17.7 Z"/><path d="M236.1 17.7 L236.1 7.8 L239 5.9 L239 17.7 Z"/></g>
<polyline points="220.9,11.9 227.5,5.6 231.5,9.8 238.9,3.0" fill="none" stroke="#353b47" stroke-width="1.6"/>
<g fill="#353b47"><rect x="267.1" y="7.6" width="3.5" height="5.3" rx="0.8"/><rect x="268.2" y="6.8" width="1.3" height="7.4"/>
<rect x="272.4" y="5" width="3.5" height="7.4" rx="0.8"/><rect x="273.5" y="3" width="1.3" height="14.8"/>
<rect x="278" y="10" width="3.5" height="4" rx="0.8"/><rect x="279.1" y="6.9" width="1.3" height="10"/>
<rect x="283.2" y="9" width="3.5" height="4" rx="0.8"/><rect x="284.3" y="5" width="1.3" height="11.9"/></g>
<g stroke="#353b47" stroke-width="2.7" stroke-linecap="round"><path d="M690.5 5.3 H701.5 M690.5 10.4 H701.5 M690.5 15.4 H701.5"/></g>
<path d="M760.4 4.2 C759.6 2.2 756.6 2.2 756.1 5.6 L754.7 14.2 C754.3 16.6 752.6 16.9 751.5 16" fill="none" stroke="#353b47" stroke-width="1.6"/>
<path d="M753.2 8.6 H758.5" stroke="#353b47" stroke-width="1.5"/>
<path d="M760.6 10.6 L766.4 16.3 M766.4 10.6 L760.6 16.3" stroke="#353b47" stroke-width="1.8"/>
<circle cx="797.1" cy="9.7" r="6.4" fill="none" stroke="#353b47" stroke-width="1.3"/><path d="M794.1 9.6 H799.9" stroke="#353b47" stroke-width="1.4"/><path d="M801.8 14.4 L804.6 17.4" stroke="#353b47" stroke-width="1.6"/>
<circle cx="844.1" cy="9.7" r="6.4" fill="none" stroke="#353b47" stroke-width="1.3"/><path d="M841.1 9.6 H846.9 M844 6.7 V12.5" stroke="#353b47" stroke-width="1.4"/><path d="M848.8 14.4 L851.6 17.4" stroke="#353b47" stroke-width="1.6"/>
<path d="M888.2 13.4 L894.4 7.2" stroke="#353b47" stroke-width="3.2"/><path d="M887.1 12.3 L889.3 14.5 L886.2 15.4 Z" fill="#353b47"/><path d="M895.3 6.3 L897.2 4.4" stroke="#353b47" stroke-width="3.2" stroke-linecap="round"/>
<rect x="884.1" y="16.9" width="14.8" height="1.1" fill="#353b47"/>
<rect x="919" y="2.9" width="18.7" height="1.1" fill="#353b47"/>
<path d="M919.3 18.5 L928.5 7.2 L937.4 18.5" fill="none" stroke="#353b47" stroke-width="1.2"/><rect x="919.3" y="17.9" width="18.1" height="1.6" fill="#868a93"/>
</svg><span class="tl" style="left:27.5px">返回</span><span class="tl" style="left:99.5px">首页</span><span class="tl" style="left:706px">更多</span></div>
<div id="side">
<div class="st" style="top:0px;height:51px">分<br>时<br>图</div>
<div class="st on" style="top:51px;height:46px;padding-top:4px"><span style="font-family:'Liberation Serif',serif">K</span><br>线<br>图</div>
<div class="st" style="top:97px;height:52px">闪<br>电<br>图</div>
<div class="st" style="top:150px;height:63px">合<br>约<br>资<br>料</div>
</div>
<div class="yl" style="top:37px">82.30</div><div class="yl" style="top:92px">79.88</div><div class="yl" style="top:147px">77.45</div><div class="yl" style="top:202px">75.03</div><div class="yl" style="top:257px">72.61</div><div class="yl" style="top:312px">70.18</div><div class="yl" style="top:367px">67.76</div><div class="yl" style="top:422px">65.34</div><div class="yl" style="top:477px">62.91</div><div class="yl" style="top:532px">60.49</div><div class="yl" style="top:587px">58.06</div><div class="yl" style="top:642px">55.64</div><div class="yl" style="top:719px">1.82</div><div class="yl" style="top:743px">1.33</div><div class="yl" style="top:768px">0.84</div><div class="yl" style="top:793px">0.36</div><div class="yl" style="top:818px">-0.13</div><div class="yl" style="top:842px">-0.62</div><div class="yl" style="top:867px">-1.11</div><div class="yl" style="top:892px">-1.59</div>
<div id="lg">
<span style="left:90px;color:#111;font-size:12px">美原油连续</span>
<span style="left:150px;color:#ff8000;font-size:12px">【日线】</span>
<span style="left:230px;color:#111">MA1(50,0,200,0)</span>
<span style="left:327px;color:#111">MA50:62.37</span>
<span style="left:402.3px;color:#1a1a90">MA0:74.02</span>
<span style="left:471.8px;color:#ff00ff">MA200:68.55</span>
<span style="left:554.6px;color:#ff8000">MA0:74.02</span>
</div>
<div id="mlg"><span style="left:90px;color:#111">MACD(13,8,9) DIFF:1.82</span><span style="left:232.2px;color:#1a1a90">DEA:0.97</span><span style="left:292px;color:#ff00ff">MACD:1.71</span></div>
<svg width="939" height="979" style="position:absolute;left:0;top:0" shape-rendering="crispEdges"><rect x="25" y="709" width="1" height="1" fill="#000"/><rect x="26" y="709" width="1" height="1" fill="#000"/><rect x="27" y="709" width="1" height="1" fill="#000"/><rect x="28" y="709" width="1" height="1" fill="#000"/><rect x="25" y="716" width="1" height="1" fill="#000"/><rect x="26" y="716" width="1" height="1" fill="#000"/><rect x="27" y="716" width="1" height="1" fill="#000"/><rect x="28" y="716" width="1" height="1" fill="#000"/><rect x="23" y="711" width="1" height="1" fill="#000"/><rect x="23" y="712" width="1" height="1" fill="#000"/><rect x="23" y="713" width="1" height="1" fill="#000"/><rect x="23" y="714" width="1" height="1" fill="#000"/><rect x="30" y="711" width="1" height="1" fill="#000"/><rect x="30" y="712" width="1" height="1" fill="#000"/><rect x="30" y="713" width="1" height="1" fill="#000"/><rect x="30" y="714" width="1" height="1" fill="#000"/><rect x="24" y="710" width="1" height="1" fill="#000"/><rect x="29" y="710" width="1" height="1" fill="#000"/><rect x="24" y="715" width="1" height="1" fill="#000"/><rect x="29" y="715" width="1" height="1" fill="#000"/><rect x="25" y="712" width="1" height="1" fill="#f00"/><rect x="25" y="713" width="1" height="1" fill="#f00"/><rect x="26" y="711" width="1" height="1" fill="#f00"/><rect x="26" y="712" width="1" height="1" fill="#f00"/><rect x="26" y="713" width="1" height="1" fill="#f00"/><rect x="26" y="714" width="1" height="1" fill="#f00"/><rect x="27" y="711" width="1" height="1" fill="#f00"/><rect x="27" y="712" width="1" height="1" fill="#f00"/><rect x="27" y="713" width="1" height="1" fill="#f00"/><rect x="27" y="714" width="1" height="1" fill="#f00"/><rect x="28" y="712" width="1" height="1" fill="#f00"/><rect x="28" y="713" width="1" height="1" fill="#f00"/><rect x="26" y="706" width="1" height="1" fill="#f00"/><rect x="26" y="707" width="1" height="1" fill="#f00"/><rect x="26" y="718" width="1" height="1" fill="#f00"/><rect x="26" y="719" width="1" height="1" fill="#f00"/><rect x="20" y="712" width="1" height="1" fill="#f00"/><rect x="21" y="712" width="1" height="1" fill="#f00"/><rect x="32" y="712" width="1" height="1" fill="#f00"/><rect x="33" y="712" width="1" height="1" fill="#f00"/><rect x="21" y="707" width="1" height="1" fill="#f00"/><rect x="22" y="708" width="1" height="1" fill="#f00"/><rect x="31" y="708" width="1" height="1" fill="#f00"/><rect x="32" y="707" width="1" height="1" fill="#f00"/><rect x="22" y="717" width="1" height="1" fill="#f00"/><rect x="21" y="718" width="1" height="1" fill="#f00"/><rect x="31" y="717" width="1" height="1" fill="#f00"/><rect x="32" y="718" width="1" height="1" fill="#f00"/></svg>
<div id="dbox">日线 <span style="display:inline-block;width:0;height:0;border-left:4.5px solid transparent;border-right:4.5px solid transparent;border-bottom:8px solid #ff7a10;vertical-align:1px;margin-left:2px"></span></div>
<div id="brow"></div><div id="brow2"></div>
<div class="bt on" style="left:18px;width:40px">指标</div><div class="bt " style="left:58px;width:39px">模板</div><div class="bt vip" style="left:97px;width:59px"><span style="font-family:Liberation Mono,monospace;letter-spacing:-1.2px">VIP</span>指标</div><div class="bt m" style="left:156px;width:28px">MA</div><div class="bt m" style="left:184px;width:40px">MACD</div><div class="bt m" style="left:224px;width:40px">BOLL</div><div class="bt m" style="left:264px;width:34px">VOL</div><div class="bt m" style="left:298px;width:40px">BIAS</div><div class="bt m" style="left:338px;width:34px">CCI</div><div class="bt m" style="left:372px;width:34px">KDJ</div><div class="bt m" style="left:406px;width:40px">LW&amp;</div><div class="bt m" style="left:446px;width:35px">RSI</div><div class="bt m" style="left:481px;width:27px">CR</div><div class="bt m" style="left:508px;width:34px">PSY</div><div class="bt " style="left:542px;width:40px">设置</div>
<div class="dl" style="left:94px">2025/02</div><div class="dl" style="left:234px">2025/03</div><div class="dl" style="left:381px">2025/04</div><div class="dl" style="left:528px">2025/05</div><div class="dl" style="left:682px">2025/06</div>
<div id="wm">FX678</div>
<div id="scroll"></div>
<div id="bline"></div>
<div id="zx">资讯</div>
</body></html>
